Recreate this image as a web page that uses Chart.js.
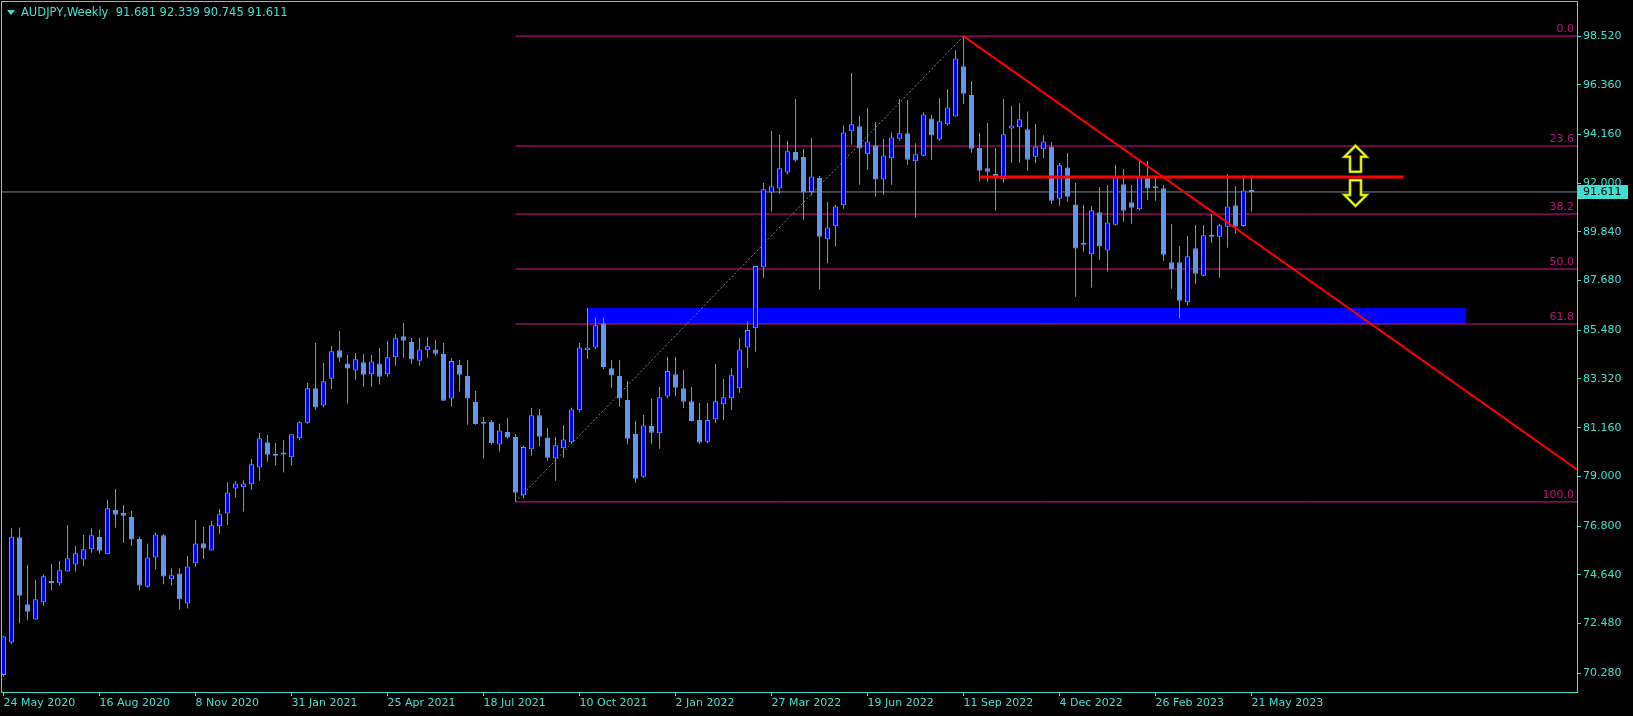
<!DOCTYPE html>
<html>
<head>
<meta charset="utf-8">
<title>AUDJPY Weekly</title>
<script src="https://cdn.jsdelivr.net/npm/chart.js@4.4.0/dist/chart.umd.min.js"></script>
<style>
  html, body { margin: 0; padding: 0; background: #000; }
  canvas { display: block; }
</style>
</head>
<body>
<canvas id="audjpy_chart" width="1633" height="716"></canvas>
<script>
"use strict"

// weekly candles, bar 0 = week of 24 May 2020
var opens = [
  70.20, 71.64, 76.30, 73.33, 72.66, 73.42, 74.36, 74.26, 74.79, 75.10,
  75.32, 75.77, 76.31, 75.55, 77.51, 77.38, 77.20, 76.23, 74.11, 75.41,
  76.39, 74.44, 74.70, 73.37, 75.15, 76.04, 75.72, 76.79, 77.36, 78.47,
  78.52, 78.65, 79.40, 80.51, 79.99, 79.99, 79.85, 80.69, 81.38, 82.91,
  82.14, 83.33, 84.59, 84.01, 83.70, 84.06, 83.53, 84.01, 83.53, 84.28,
  85.21, 84.96, 84.13, 84.59, 84.63, 84.43, 82.45, 83.94, 83.45, 82.30,
  81.41, 81.41, 80.41, 80.97, 80.75, 78.16, 80.20, 81.71, 80.73, 79.80,
  80.25, 80.51, 81.93, 84.59, 84.72, 85.79, 83.79, 83.45, 82.39, 80.88,
  78.99, 81.24, 80.91, 82.54, 83.53, 82.91, 82.33, 81.50, 80.54, 81.53,
  82.20, 82.46, 82.91, 84.71, 85.57, 88.27, 91.59, 91.76, 92.47, 93.38,
  93.16, 91.61, 92.23, 89.51, 90.09, 91.02, 94.30, 94.52, 93.28, 93.68,
  92.16, 93.10, 93.97, 94.21, 92.97, 93.22, 94.87, 93.94, 94.61, 94.96,
  97.18, 95.91, 93.56, 92.66, 92.41, 92.17, 94.42, 94.48, 94.39, 93.17,
  93.50, 93.62, 91.31, 92.70, 91.06, 89.33, 88.85, 90.71, 89.02, 90.16,
  91.95, 91.15, 90.84, 92.26, 91.77, 91.77, 88.49, 88.49, 86.72, 89.11,
  87.90, 89.70, 89.63, 90.07, 91.02, 90.10, 91.681
];
var highs = [
  71.93, 76.70, 76.74, 75.07, 74.41, 74.66, 75.12, 75.25, 76.83, 75.92,
  76.40, 76.70, 76.65, 77.95, 78.44, 77.73, 77.47, 76.33, 76.03, 76.51,
  76.45, 74.93, 74.93, 75.47, 77.07, 76.76, 77.02, 77.56, 78.74, 78.80,
  78.83, 79.77, 80.92, 80.84, 80.48, 80.61, 80.87, 81.46, 83.14, 84.91,
  84.03, 84.78, 85.45, 84.38, 84.47, 84.43, 84.38, 84.69, 85.00, 85.31,
  85.80, 85.14, 85.14, 85.18, 85.05, 84.91, 84.25, 84.16, 84.16, 82.79,
  81.63, 81.50, 81.35, 81.59, 80.88, 80.36, 82.03, 81.99, 81.15, 80.75,
  81.28, 82.06, 84.91, 86.47, 86.05, 86.05, 84.16, 84.16, 83.23, 81.46,
  81.72, 82.45, 82.96, 84.29, 84.29, 83.72, 82.96, 82.25, 82.26, 83.98,
  83.32, 83.79, 85.12, 85.89, 88.33, 92.01, 94.31, 94.14, 93.87, 95.73,
  93.51, 94.00, 92.32, 91.17, 91.03, 94.56, 96.88, 94.98, 95.32, 94.70,
  93.96, 94.25, 95.73, 95.69, 93.77, 95.14, 95.05, 95.76, 96.18, 97.89,
  98.52, 96.53, 94.22, 94.67, 93.56, 95.73, 95.42, 95.54, 95.18, 94.62,
  94.12, 93.83, 92.89, 93.34, 92.01, 91.03, 90.99, 91.83, 91.92, 92.81,
  92.63, 91.92, 92.98, 92.98, 92.26, 91.92, 90.19, 89.21, 89.66, 90.15,
  90.15, 90.63, 90.19, 92.41, 91.86, 92.35, 92.339
];
var lows = [
  70.12, 71.56, 72.49, 72.61, 72.66, 73.27, 73.94, 74.16, 74.79, 74.79,
  75.03, 75.62, 75.56, 75.55, 76.73, 76.06, 75.93, 73.94, 74.07, 74.87,
  74.22, 74.16, 73.09, 73.14, 75.00, 75.34, 75.72, 76.46, 76.85, 78.06,
  77.44, 78.41, 78.81, 79.65, 79.48, 79.17, 79.48, 80.59, 81.34, 81.94,
  82.05, 82.88, 84.07, 82.23, 83.29, 82.98, 82.98, 83.07, 83.42, 83.91,
  84.26, 84.00, 83.91, 84.26, 84.35, 82.36, 82.09, 82.76, 81.29, 81.29,
  79.79, 80.41, 80.10, 80.67, 77.87, 78.03, 79.92, 80.33, 79.70, 78.81,
  79.83, 80.47, 81.83, 84.21, 84.65, 83.76, 82.93, 82.09, 80.41, 78.72,
  78.94, 80.45, 80.23, 82.46, 82.57, 82.03, 81.43, 80.45, 80.47, 81.38,
  81.50, 81.94, 82.71, 83.79, 84.53, 87.81, 90.74, 91.53, 92.38, 92.95,
  90.38, 91.45, 87.29, 88.45, 89.19, 90.87, 93.71, 91.93, 92.60, 91.40,
  91.49, 91.93, 93.88, 92.82, 90.47, 93.18, 93.04, 93.88, 94.56, 94.94,
  95.51, 93.35, 92.07, 92.07, 90.78, 92.02, 92.91, 92.91, 92.55, 92.88,
  93.10, 91.09, 91.00, 91.18, 86.97, 88.96, 87.37, 88.61, 88.08, 90.12,
  90.29, 90.20, 90.80, 91.25, 91.22, 88.56, 87.32, 85.99, 86.58, 87.54,
  87.86, 89.36, 87.81, 89.14, 89.76, 90.07, 90.745
];
var closes = [
  71.90, 76.33, 73.71, 73.00, 73.55, 74.57, 74.26, 74.84, 75.37, 75.59,
  75.77, 76.39, 75.71, 77.59, 77.30, 77.26, 76.20, 74.16, 75.41, 76.43,
  74.56, 74.62, 73.55, 75.01, 76.03, 75.80, 76.83, 77.32, 78.29, 78.69,
  78.69, 79.54, 80.69, 79.96, 79.92, 79.97, 80.87, 81.40, 82.91, 82.05,
  83.22, 84.55, 84.26, 83.78, 84.19, 83.51, 84.10, 83.42, 84.28, 85.12,
  85.02, 84.18, 84.63, 84.77, 84.44, 82.36, 84.12, 83.51, 82.45, 81.32,
  81.34, 80.47, 81.04, 80.72, 78.28, 80.30, 81.71, 80.76, 79.83, 80.38,
  80.64, 81.97, 84.72, 84.72, 85.70, 83.85, 83.47, 82.45, 80.67, 78.90,
  81.26, 80.94, 82.51, 83.67, 82.93, 82.31, 81.46, 80.50, 81.50, 82.33,
  82.51, 83.48, 84.63, 85.49, 88.33, 91.73, 91.86, 92.66, 93.41, 93.00,
  91.59, 92.30, 89.63, 90.03, 90.97, 94.25, 94.61, 93.54, 93.85, 92.16,
  93.23, 94.03, 94.21, 93.04, 93.28, 95.05, 94.11, 94.74, 95.36, 97.53,
  95.97, 93.53, 92.55, 92.51, 92.32, 94.17, 94.56, 94.83, 93.04, 93.63,
  93.85, 91.22, 92.79, 91.40, 89.10, 89.27, 90.80, 89.19, 90.26, 92.26,
  90.78, 90.91, 92.26, 91.76, 91.86, 88.83, 88.19, 86.79, 88.76, 87.99,
  89.69, 89.63, 90.13, 90.97, 90.07, 91.68, 91.611
];

// x axis labels, one every 12 bars
var dateLabels = [
  '24 May 2020', '16 Aug 2020', '8 Nov 2020', '31 Jan 2021', '25 Apr 2021',
  '18 Jul 2021', '10 Oct 2021', '2 Jan 2022', '27 Mar 2022', '19 Jun 2022',
  '11 Sep 2022', '4 Dec 2022', '26 Feb 2023', '21 May 2023'
];
var priceTicks = [98.52, 96.36, 94.16, 92.00, 89.84, 87.68, 85.48, 83.32, 81.16, 79.00, 76.80, 74.64, 72.48, 70.28];

// fibonacci retracement between the 2021 low and the 2022 high
var fibLevels = [0, 23.6, 38.2, 50, 61.8, 100];
var fibBars = [64, 120];
var fibPrices = [77.87, 98.52];

// drawn objects
var trendBars = [120, 196.69];
var trendPrices = [98.52, 79.31];
var resistanceBars = [122, 175];
var resistancePrice = 92.27;
var zoneBars = [73, 182.8];
var zonePrices = [85.76, 86.47];
var arrowBar = 169;
var arrowUpPrices = [93.66, 92.51];
var arrowDownPrices = [92.13, 90.99];

var symbolTitle = 'AUDJPY,Weekly';
var lastBar = opens.length - 1;

var axisColor = '#3FE0CF';
var wickColor = '#6495ED';
var bullFill = '#0000FF';
var fibColor = '#D0168C';
var fontFamily = 'DejaVu Sans';

var xMin = -0.1875, xMax = 196.6875;
var yMin = 69.443, yMax = 100.032;

function fibPrice(level) {
  return fibPrices[1] - (fibPrices[1] - fibPrices[0]) * level / 100;
}

var wickData = opens.map(function (o, i) { return { x: i, y: [lows[i], highs[i]] }; });
var bodyData = opens.map(function (o, i) { return { x: i, y: [o, closes[i]] }; });
var bodyColors = opens.map(function (o, i) { return closes[i] >= o ? bullFill : wickColor; });

function flatLine(x0, x1, price) {
  return [{ x: x0, y: price }, { x: x1, y: price }];
}

var datasets = [
  {
    type: 'line', data: [{ x: trendBars[0], y: trendPrices[0] }, { x: trendBars[1], y: trendPrices[1] }],
    borderColor: '#FF0000', borderWidth: 2, pointRadius: 0, fill: false
  },
  {
    type: 'line', data: flatLine(resistanceBars[0], resistanceBars[1], resistancePrice),
    borderColor: '#FF0000', borderWidth: 3, pointRadius: 0, fill: false
  },
  {
    type: 'bar', data: bodyData, backgroundColor: bodyColors, borderColor: wickColor,
    borderWidth: 1, borderSkipped: false, barThickness: 5, minBarLength: 2,
    grouped: false, inflateAmount: 0
  },
  {
    type: 'bar', data: wickData, backgroundColor: wickColor, borderWidth: 0,
    barThickness: 1, grouped: false, inflateAmount: 0
  },
  {
    type: 'line', data: flatLine(xMin, xMax, closes[lastBar]),
    borderColor: '#778899', borderWidth: 1, pointRadius: 0, fill: false
  },
  {
    type: 'line', data: [{ x: fibBars[0], y: fibPrices[0] }, { x: fibBars[1], y: fibPrices[1] }],
    borderColor: '#6A8A80', borderWidth: 1, borderDash: [2, 2], pointRadius: 0, fill: false
  }
];
fibLevels.forEach(function (lv) {
  datasets.push({
    type: 'line', data: flatLine(fibBars[0], xMax, fibPrice(lv)),
    borderColor: fibColor, borderWidth: 1, pointRadius: 0, fill: false
  });
});

function drawArrow(ctx, cx, yTip, yEnd) {
  var d = yEnd > yTip ? 1 : -1;
  var headBase = yTip + d * 11;
  ctx.beginPath();
  ctx.moveTo(cx, yTip);
  ctx.lineTo(cx + 11, headBase);
  ctx.lineTo(cx + 5.5, headBase);
  ctx.lineTo(cx + 5.5, yEnd);
  ctx.lineTo(cx - 5.5, yEnd);
  ctx.lineTo(cx - 5.5, headBase);
  ctx.lineTo(cx - 11, headBase);
  ctx.closePath();
  ctx.fillStyle = '#000';
  ctx.fill();
  ctx.strokeStyle = '#7A9A20';
  ctx.lineWidth = 3;
  ctx.stroke();
  ctx.strokeStyle = '#FFFF00';
  ctx.lineWidth = 1.5;
  ctx.stroke();
}

// no extra room for half labels: the frame sits right at the canvas edge
function noScalePadding(s) {
  s.paddingTop = 0;
  s.paddingBottom = 0;
  s.paddingLeft = 0;
  s.paddingRight = 0;
}

var overlayPlugin = {
  id: 'overlay',
  beforeDatasetsDraw: function (chart) {
    var ctx = chart.ctx, area = chart.chartArea, x = chart.scales.x, y = chart.scales.y;
    ctx.save();
    ctx.beginPath();
    ctx.rect(area.left, area.top, area.width, area.height);
    ctx.clip();
    var x0 = x.getPixelForValue(zoneBars[0]), x1 = x.getPixelForValue(zoneBars[1]);
    var y0 = y.getPixelForValue(zonePrices[1]), y1 = y.getPixelForValue(zonePrices[0]);
    ctx.fillStyle = '#0000FF';
    ctx.fillRect(x0, y0, x1 - x0, y1 - y0);
    ctx.restore();
  },
  afterDatasetsDraw: function (chart) {
    var ctx = chart.ctx, area = chart.chartArea, x = chart.scales.x, y = chart.scales.y;
    ctx.save();
    ctx.font = '11px "' + fontFamily + '"';
    ctx.fillStyle = '#BE1479';
    ctx.textAlign = 'right';
    ctx.textBaseline = 'bottom';
    fibLevels.forEach(function (lv) {
      ctx.fillText(lv.toFixed(1), area.right - 3, y.getPixelForValue(fibPrice(lv)) - 1);
    });
    var ax = x.getPixelForValue(arrowBar);
    drawArrow(ctx, ax, y.getPixelForValue(arrowUpPrices[0]), y.getPixelForValue(arrowUpPrices[1]));
    drawArrow(ctx, ax, y.getPixelForValue(arrowDownPrices[1]), y.getPixelForValue(arrowDownPrices[0]));
    ctx.restore();
  },
  afterDraw: function (chart) {
    var ctx = chart.ctx, area = chart.chartArea, y = chart.scales.y;
    ctx.save();
    ctx.strokeStyle = axisColor;
    ctx.lineWidth = 1;
    ctx.strokeRect(area.left - 0.5, area.top - 0.5, area.width + 1, area.height + 1);

    // header line
    ctx.fillStyle = axisColor;
    ctx.beginPath();
    ctx.moveTo(7, 10); ctx.lineTo(15, 10); ctx.lineTo(11, 15);
    ctx.closePath();
    ctx.fill();
    ctx.font = '11.5px "' + fontFamily + '"';
    ctx.textAlign = 'left';
    ctx.textBaseline = 'middle';
    var ohlc = [opens[lastBar], highs[lastBar], lows[lastBar], closes[lastBar]].map(function (v) { return v.toFixed(3); });
    ctx.fillText(symbolTitle + '  ' + ohlc.join(' '), 21, 13);

    // last price box on the axis
    ctx.font = '11px "' + fontFamily + '"';
    var py = Math.round(y.getPixelForValue(closes[lastBar]));
    ctx.fillStyle = axisColor;
    ctx.fillRect(area.right + 1, py - 7, 50, 14);
    ctx.fillStyle = '#000';
    ctx.fillText(closes[lastBar].toFixed(3), area.right + 6, py);
    ctx.restore();
  }
};

var ctx = document.getElementById('audjpy_chart').getContext('2d');
var audjpy_chart = new Chart(ctx, {
  type: 'bar',
  data: { datasets: datasets },
  options: {
    responsive: false,
    devicePixelRatio: 1,
    animation: false,
    events: [],
    layout: { padding: { left: 2, top: 2, right: 0, bottom: 0 } },
    plugins: { legend: { display: false }, tooltip: { enabled: false } },
    scales: {
      x: {
        type: 'linear', min: xMin, max: xMax, offset: false,
        grid: { offset: false, drawOnChartArea: false, drawTicks: true, tickLength: 4, color: axisColor },
        border: { display: true, color: axisColor },
        ticks: {
          autoSkip: false, maxRotation: 0, align: 'start', padding: 1, color: axisColor,
          font: { family: fontFamily, size: 11 },
          callback: function (v, k) { return dateLabels[k]; }
        },
        afterBuildTicks: function (s) { s.ticks = dateLabels.map(function (d, k) { return { value: k * 12 }; }); },
        afterFit: function (s) { s.height = 24; noScalePadding(s); }
      },
      y: {
        type: 'linear', position: 'right', min: yMin, max: yMax, beginAtZero: false,
        grid: { drawOnChartArea: false, drawTicks: true, tickLength: 4, color: axisColor },
        border: { display: true, color: axisColor },
        ticks: {
          padding: 2, color: axisColor, font: { family: fontFamily, size: 11 },
          callback: function (v) { return Number(v).toFixed(3); }
        },
        afterBuildTicks: function (s) { s.ticks = priceTicks.map(function (v) { return { value: v }; }); },
        afterFit: function (s) { s.width = 56; noScalePadding(s); }
      }
    }
  },
  plugins: [overlayPlugin]
});
</script>
</body>
</html>
